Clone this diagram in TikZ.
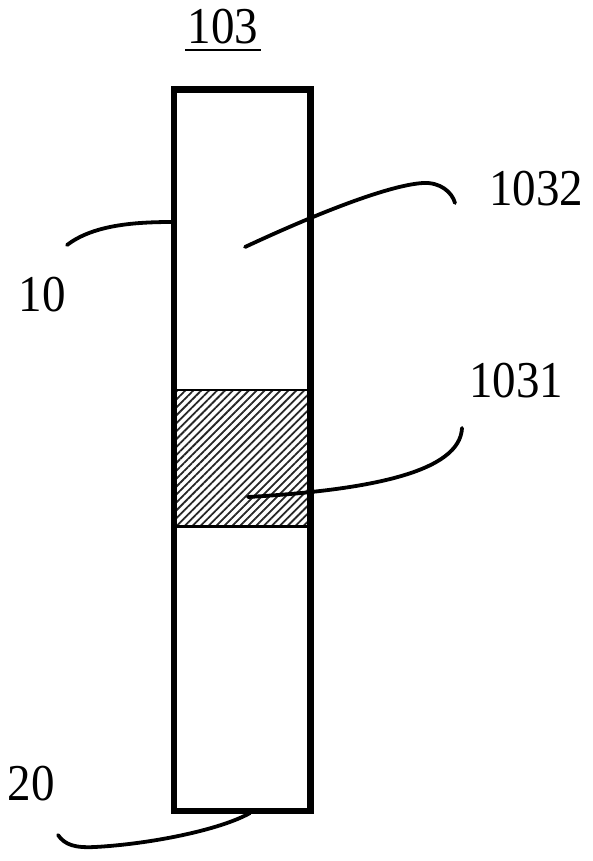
\documentclass[tikz,border=0pt]{standalone}
\usepackage{fontspec}
\setmainfont{Liberation Serif}
\usetikzlibrary{patterns.meta}
\newcommand{\tallnum}[1]{\scalebox{1}[1.1]{#1}}
\tikzset{
  lbl/.style={inner sep=0pt, font=\fontsize{47}{47}\selectfont},
  leader/.style={line width=3.8pt, line cap=round},
  wall/.style={line width=6.5pt},
}
\begin{document}
\begin{tikzpicture}[x=1pt,y=-1pt]
\useasboundingbox[fill=white] (0,0) rectangle (592,861);
% hatched part
\fill[pattern={Lines[angle=45,distance=5.6pt,line width=1.8pt]},pattern color=black!85] (174,390) rectangle (310.5,526);
\draw[line width=1.5pt] (174,390) -- (310.5,390);
\draw[line width=3pt] (174,526) -- (310.5,526);
% body
\draw[wall] (174,89.5) rectangle (310.5,811);
% labels
\node[lbl] (n103) at (223,27) {\tallnum{103}};
\draw[line width=2.4pt] (185,50) -- (261,50);
\node[lbl] (n1032) at (536,189) {\tallnum{1032}};
\node[lbl] (n10) at (42,295) {\tallnum{10}};
\node[lbl] (n1031) at (516,381) {\tallnum{1031}};
\node[lbl] (n20) at (31,784) {\tallnum{20}};
% leader ends
\coordinate (a10) at (67,245);
\coordinate (b10) at (172,222);
\coordinate (a1032) at (455,203);
\coordinate (b1032) at (245,247);
\coordinate (a1031) at (462,428);
\coordinate (b1031) at (248,497);
\coordinate (a20) at (58,835);
\coordinate (b20) at (250,813);
% leaders
\draw[leader] (a10) .. controls (92,226) and (130,222) .. (b10);
\draw[leader] (b1032) .. controls (320,212) and (390,185) .. (423,183) .. controls (440,182) and (452,192) .. (a1032);
\draw[leader] (b1031) .. controls (370,490) and (460,472) .. (a1031);
\draw[leader] (a20) .. controls (65,845) and (75,848) .. (95,847) .. controls (150,844) and (220,830) .. (b20);
\end{tikzpicture}
\end{document}
